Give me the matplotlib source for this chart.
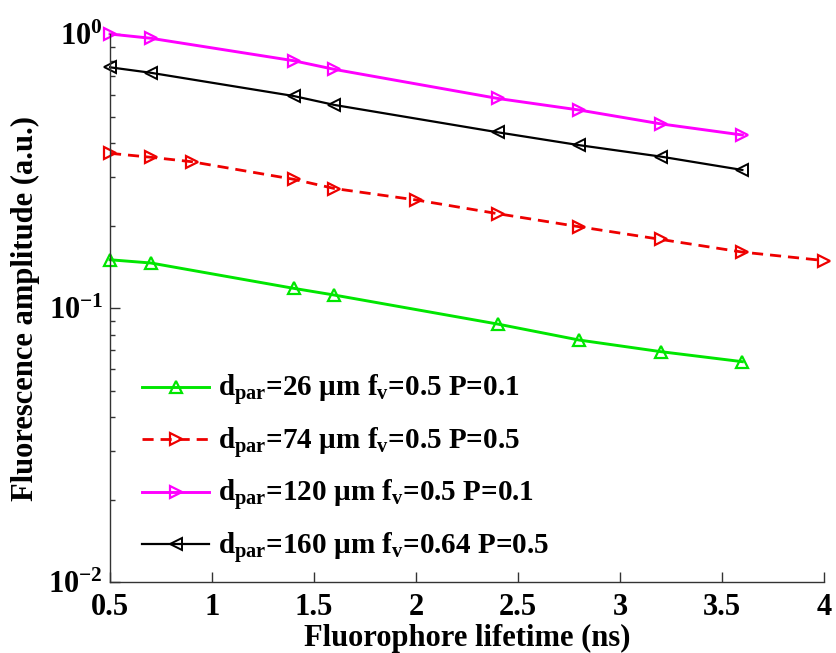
import matplotlib
matplotlib.use("Agg")
import matplotlib.pyplot as plt
from matplotlib.ticker import LogLocator, FixedLocator

plt.rcParams['font.family'] = ['Liberation Serif', 'DejaVu Serif']
plt.rcParams['font.weight'] = 'bold'
plt.rcParams['mathtext.fontset'] = 'custom'
plt.rcParams['mathtext.rm'] = 'Liberation Serif:bold'
plt.rcParams['mathtext.it'] = 'Liberation Serif:italic:bold'
plt.rcParams['mathtext.bf'] = 'Liberation Serif:bold'

# Fluorophore lifetime (ns) sampled for each configuration
tau_short = [0.5, 0.7, 1.4, 1.6, 2.4, 2.8, 3.2, 3.6]
tau_long = [0.5, 0.7, 0.9, 1.4, 1.6, 2.0, 2.4, 2.8, 3.2, 3.6, 4.0]

# Fluorescence amplitude (a.u.)
amp_d26 = [0.150, 0.146, 0.118, 0.1115, 0.0874, 0.0764, 0.0693, 0.0637]
amp_d74 = [0.367, 0.355, 0.342, 0.295, 0.273, 0.248, 0.221, 0.198, 0.178, 0.160, 0.149]
amp_d120 = [1.0, 0.965, 0.799, 0.743, 0.582, 0.528, 0.470, 0.428]
amp_d160 = [0.756, 0.722, 0.594, 0.551, 0.438, 0.393, 0.357, 0.319]

labels = [
    'd$_{\\mathregular{par}}$=26 µm f$_{\\mathregular{v}}$=0.5 P=0.1',
    'd$_{\\mathregular{par}}$=74 µm f$_{\\mathregular{v}}$=0.5 P=0.5',
    'd$_{\\mathregular{par}}$=120 µm f$_{\\mathregular{v}}$=0.5 P=0.1',
    'd$_{\\mathregular{par}}$=160 µm f$_{\\mathregular{v}}$=0.64 P=0.5',
]
x_ticks = [0.5, 1, 1.5, 2, 2.5, 3, 3.5, 4]
x_tick_labels = ['0.5', '1', '1.5', '2', '2.5', '3', '3.5', '4']

fig = plt.figure(figsize=(8.36, 6.53), dpi=100)
ax = fig.add_axes([0.1316, 0.1087, 0.854, 0.8392])

ms = 9
ax.plot(tau_short, amp_d26, color='#00e600', lw=2.1, marker='^', ms=ms,
        mfc='none', mew=1.6, label=labels[0], clip_on=False)
ax.plot(tau_long, amp_d74, color='#ee0000', lw=2.0, ls=(0, (4, 2.5)), marker='>',
        ms=ms, mfc='none', mew=1.6, label=labels[1], clip_on=False)
ax.plot(tau_short, amp_d120, color='#ff00ff', lw=2.1, marker='>', ms=ms,
        mfc='none', mew=1.6, label=labels[2], clip_on=False)
ax.plot(tau_short, amp_d160, color='black', lw=1.6, marker='<', ms=ms,
        mfc='none', mew=1.4, label=labels[3], clip_on=False)

ax.set_yscale('log')
ax.set_xlim(0.5, 4)
ax.set_ylim(1e-2, 1e0)
ax.xaxis.set_major_locator(FixedLocator(x_ticks))
ax.set_xticklabels(x_tick_labels)
ax.yaxis.set_major_locator(LogLocator(base=10, numticks=5))
ax.yaxis.set_minor_locator(LogLocator(base=10, subs=range(2, 10), numticks=20))

for side in ('top', 'right'):
    ax.spines[side].set_visible(False)
for side in ('left', 'bottom'):
    ax.spines[side].set_color('#333333')
    ax.spines[side].set_linewidth(1.0)

ax.tick_params(axis='both', which='major', direction='in', length=7, width=1,
               color='#333333', labelsize=22, pad=5)
ax.tick_params(axis='y', which='minor', direction='in', length=3.5, width=1,
               color='#333333')
ax.tick_params(axis='x', which='major', pad=8)

ax.set_xlabel('Fluorophore lifetime (ns)', fontsize=22, fontweight='bold', labelpad=1)
ax.set_ylabel('Fluorescence amplitude (a.u.)', fontsize=22, fontweight='bold', labelpad=6)

leg = ax.legend(loc='lower left', bbox_to_anchor=(0.045, 0.03), frameon=False,
                fontsize=21, handlelength=2.3, handletextpad=0.3,
                labelspacing=0.6, borderpad=0, borderaxespad=0)

fig.savefig('out.png', dpi=100, facecolor='white')
